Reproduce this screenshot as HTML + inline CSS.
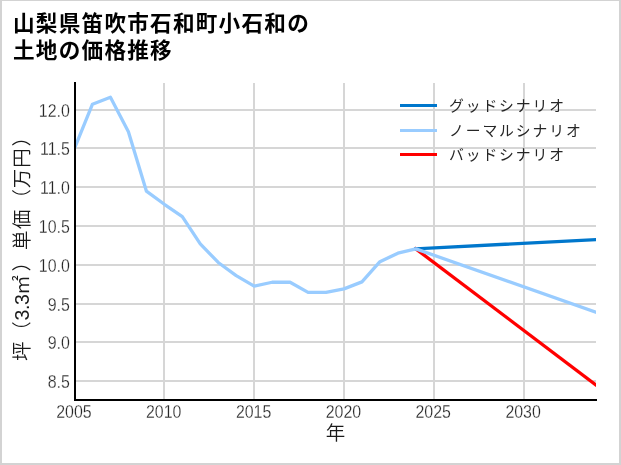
<!DOCTYPE html>
<html lang="ja"><head><meta charset="utf-8"><title>山梨県笛吹市石和町小石和の土地の価格推移</title>
<style>
html,body{margin:0;padding:0;background:#fff;}
body{width:621px;height:465px;overflow:hidden;position:relative;font-family:"Liberation Sans","Noto Sans CJK JP",sans-serif;}
#frame{position:absolute;left:0;top:0;width:617px;height:462px;border-style:solid;border-color:#d3d3d3;border-width:1px 2px 2px 2px;box-sizing:content-box;}
svg{position:absolute;left:0;top:0;}
svg text{font-family:"Liberation Sans","Noto Sans CJK JP",sans-serif;fill:#262626;}
.title{font-weight:bold;font-size:21.6px;letter-spacing:1.25px;fill:#000;}
.tick{font-size:17.9px;fill:#000;stroke:#fff;stroke-width:0.25px;paint-order:fill stroke;}
.leg{font-size:14.8px;font-weight:400;letter-spacing:1.9px;fill:#333;}
.axl{font-size:19.5px;font-weight:350;fill:#1a1a1a;}
.yl{letter-spacing:0.8px;}
.num{letter-spacing:-0.5px;}
</style></head><body>
<div id="frame"></div>
<svg width="621" height="465" viewBox="0 0 621 465">
<text class="title" x="13.0" y="30.9">山梨県笛吹市石和町小石和の</text>
<text class="title" x="13.0" y="58.1">土地の価格推移</text>
<g fill="#d6d6d6" shape-rendering="crispEdges">
<rect x="163" y="83" width="2" height="317"/>
<rect x="253" y="83" width="2" height="317"/>
<rect x="343" y="83" width="2" height="317"/>
<rect x="433" y="83" width="2" height="317"/>
<rect x="523" y="83" width="2" height="317"/>
<rect x="75" y="109" width="521" height="2"/>
<rect x="75" y="147" width="521" height="2"/>
<rect x="75" y="186" width="521" height="2"/>
<rect x="75" y="225" width="521" height="2"/>
<rect x="75" y="264" width="521" height="2"/>
<rect x="75" y="303" width="521" height="2"/>
<rect x="75" y="341" width="521" height="2"/>
<rect x="75" y="380" width="521" height="2"/>
</g>
<clipPath id="cp"><rect x="74" y="80" width="522" height="321"/></clipPath>
<g clip-path="url(#cp)" fill="none" stroke-width="3.3" stroke-linejoin="round" stroke-linecap="square">
<polyline points="415.85,248.89 595.51,384.69" stroke="#ff0000"/>
<polyline points="415.85,248.89 595.51,239.58" stroke="#0077cc"/>
<polyline points="74.50,148.40 92.47,104.17 110.43,97.18 128.40,131.72 146.36,191.08 164.33,204.27 182.30,216.69 200.26,243.85 218.23,262.47 236.19,275.66 254.16,286.14 272.13,282.26 290.09,282.26 308.06,292.35 326.02,292.35 343.99,288.86 361.96,281.87 379.92,261.70 397.89,253.16 415.85,248.89 595.51,312.14" stroke="#99ccff"/>
</g>
<rect x="74" y="82" width="2" height="319" fill="#000"/>
<rect x="74" y="399" width="523" height="2" fill="#000"/>
<g class="tick">
<text transform="translate(69.8,387.9) scale(0.890,1)" text-anchor="end">8.5</text>
<text transform="translate(69.8,348.9) scale(0.890,1)" text-anchor="end">9.0</text>
<text transform="translate(69.8,310.9) scale(0.890,1)" text-anchor="end">9.5</text>
<text transform="translate(69.8,271.9) scale(0.890,1)" text-anchor="end">10.0</text>
<text transform="translate(69.8,232.9) scale(0.890,1)" text-anchor="end">10.5</text>
<text transform="translate(69.8,193.9) scale(0.890,1)" text-anchor="end">11.0</text>
<text transform="translate(69.8,154.9) scale(0.890,1)" text-anchor="end">11.5</text>
<text transform="translate(69.8,116.9) scale(0.890,1)" text-anchor="end">12.0</text>
<text transform="translate(73.9,418.3) scale(0.890,1)" text-anchor="middle">2005</text>
<text transform="translate(163.7,418.3) scale(0.890,1)" text-anchor="middle">2010</text>
<text transform="translate(253.6,418.3) scale(0.890,1)" text-anchor="middle">2015</text>
<text transform="translate(343.4,418.3) scale(0.890,1)" text-anchor="middle">2020</text>
<text transform="translate(433.2,418.3) scale(0.890,1)" text-anchor="middle">2025</text>
<text transform="translate(523.1,418.3) scale(0.890,1)" text-anchor="middle">2030</text>
</g>
<text class="axl" x="335.5" y="440" text-anchor="middle">年</text>
<text class="axl yl" transform="translate(28.8,361) rotate(-90)" dx="0 0 0 0 0 0 3 1 0.7 0.3 0 0 1">坪（<tspan class="num">3.3</tspan>㎡）単価（万円）</text>
<g shape-rendering="crispEdges">
<rect x="400" y="104" width="37" height="3" fill="#0077cc"/>
<rect x="400" y="129" width="37" height="3" fill="#99ccff"/>
<rect x="400" y="153" width="37" height="3" fill="#ff0000"/>
</g>
<g class="leg">
<text x="449" y="110.5">グッドシナリオ</text>
<text x="449" y="135.5">ノーマルシナリオ</text>
<text x="449" y="160">バッドシナリオ</text>
</g>
</svg>
</body></html>
